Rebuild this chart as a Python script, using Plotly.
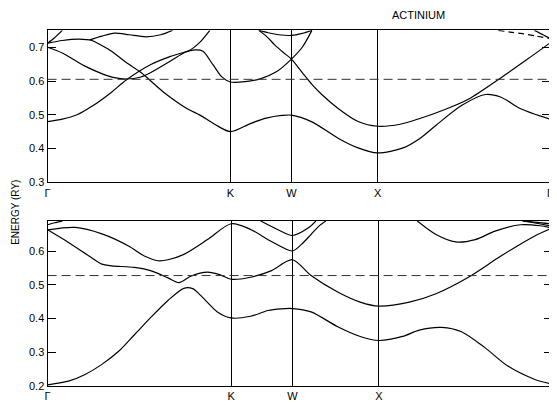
import plotly.graph_objects as go

# symmetry points (fcc path, units 2pi/a)
sym_k = [0.0, 1.0607, 1.4142, 1.9142, 2.9142]
sym_labels = ["Γ", "K", "W", "X", "Γ"]

# ---------------- upper panel (0.3 - 0.75 Ry) ----------------
top_fermi = 0.605
top_b1_k = [0.0, 0.0855, 0.171, 0.257, 0.371, 0.456, 0.599, 0.713, 0.827, 0.884, 0.941]
top_b1_e = [0.48, 0.487, 0.50, 0.525, 0.567, 0.603, 0.649, 0.673, 0.692, 0.715, 0.75]

top_b2_k = [0.0, 0.0855, 0.217, 0.314, 0.388, 0.456, 0.542, 0.599, 0.713, 0.798, 0.855, 0.901,
            0.958, 1.009, 1.0607, 1.146, 1.237, 1.329, 1.4142, 1.477, 1.533]
top_b2_e = [0.70, 0.683, 0.644, 0.622, 0.61, 0.606, 0.612, 0.625, 0.659, 0.685, 0.692, 0.688,
            0.649, 0.613, 0.597, 0.598, 0.607, 0.628, 0.665, 0.70, 0.75]

top_b3_k = [0.0, 0.0855, 0.182, 0.257, 0.314, 0.371, 0.456, 0.542, 0.673, 0.810, 0.884, 0.969,
            1.0607, 1.176, 1.268, 1.359, 1.4142, 1.533, 1.687, 1.801, 1.9142, 2.062, 2.159,
            2.255, 2.403, 2.539, 2.630, 2.744, 2.9142]
top_b3_e = [0.712, 0.72, 0.724, 0.72, 0.705, 0.688, 0.655, 0.625, 0.567, 0.518, 0.499, 0.472,
            0.45, 0.474, 0.49, 0.498, 0.499, 0.479, 0.43, 0.402, 0.387, 0.402, 0.43,
            0.47, 0.528, 0.56, 0.552, 0.518, 0.487]

top_b4_k = [0.245, 0.314, 0.388, 0.473, 0.570, 0.656, 0.724]
top_b4_e = [0.722, 0.733, 0.742, 0.737, 0.731, 0.737, 0.75]

top_b5_k = [0.0, 0.04, 0.0855]
top_b5_e = [0.712, 0.728, 0.75]

top_b6_k = [1.2253, 1.274, 1.317, 1.366, 1.4142, 1.477, 1.533, 1.590, 1.687, 1.801, 1.9142,
            2.045, 2.159, 2.301, 2.443, 2.630, 2.784, 2.9142]
top_b6_e = [0.75, 0.73, 0.707, 0.685, 0.665, 0.625, 0.59, 0.56, 0.518, 0.48, 0.466,
            0.472, 0.489, 0.515, 0.547, 0.61, 0.665, 0.713]

top_b7_k = [1.2253, 1.280, 1.341, 1.4142, 1.477, 1.533]
top_b7_e = [0.75, 0.743, 0.737, 0.735, 0.741, 0.75]

top_b8_k = [2.614, 2.682, 2.744, 2.824, 2.9142]   # dashed band
top_b8_e = [0.75, 0.745, 0.741, 0.734, 0.726]

top_b9_k = [2.824, 2.87, 2.9142]
top_b9_e = [0.75, 0.738, 0.726]

# ---------------- lower panel (0.2 - 0.69 Ry) ----------------
bot_fermi = 0.528
bot_b1_k = [0.0, 0.1255, 0.2167, 0.3136, 0.4106, 0.5018, 0.5988, 0.6957, 0.787, 0.8383, 0.8839,
            0.9809, 1.0607, 1.1727, 1.2728, 1.3495, 1.4142, 1.522, 1.676, 1.806, 1.9142,
            2.051, 2.147, 2.278, 2.391, 2.528, 2.659, 2.812, 2.9142]
bot_b1_e = [0.203, 0.215, 0.234, 0.264, 0.303, 0.352, 0.405, 0.454, 0.49, 0.489, 0.469,
            0.42, 0.402, 0.407, 0.424, 0.429, 0.43, 0.42, 0.376, 0.347, 0.335,
            0.347, 0.366, 0.374, 0.361, 0.313, 0.259, 0.22, 0.205]

bot_b2_k = [0.0, 0.1597, 0.3136, 0.4676, 0.5589, 0.6387, 0.6957, 0.787, 0.9238, 1.0607,
            1.1727, 1.2905, 1.4142, 1.4653, 1.522, 1.5676, 1.6074]
bot_b2_e = [0.664, 0.671, 0.652, 0.616, 0.586, 0.572, 0.575, 0.591, 0.635, 0.682,
            0.665, 0.63, 0.601, 0.62, 0.65, 0.675, 0.69]

bot_b3_k = [0.0, 0.1255, 0.2395, 0.3136, 0.3707, 0.5018, 0.5988, 0.6957, 0.7585, 0.8269,
            0.9238, 0.998, 1.0607, 1.1727, 1.2905, 1.4142, 1.522, 1.676, 1.806, 1.9142,
            2.09, 2.244, 2.431, 2.619, 2.812, 2.9142]
bot_b3_e = [0.664, 0.625, 0.586, 0.562, 0.557, 0.552, 0.542, 0.521, 0.507, 0.526,
            0.538, 0.53, 0.517, 0.523, 0.542, 0.575, 0.528, 0.479, 0.449, 0.437,
            0.449, 0.474, 0.523, 0.586, 0.645, 0.669]

bot_b4_k = [1.2316, 1.3318, 1.4142, 1.505, 1.55]
bot_b4_e = [0.69, 0.664, 0.647, 0.669, 0.69]

bot_b5_k = [2.136, 2.244, 2.358, 2.471, 2.585, 2.733, 2.846, 2.9142]
bot_b5_e = [0.69, 0.65, 0.628, 0.635, 0.66, 0.679, 0.676, 0.669]

bot_b6_k = [2.7438, 2.829, 2.9142]
bot_b6_e = [0.69, 0.686, 0.681]
bot_b7_k = [2.76, 2.84, 2.9142]
bot_b7_e = [0.69, 0.682, 0.675]

bot_b8_k = [0.0, 0.04, 0.0855]
bot_b8_e = [0.679, 0.685, 0.69]

fig = go.Figure()
LINE = dict(color="black", width=1.2, shape="spline", smoothing=0.8)


def band(k, e, axis, dash=None):
    ln = dict(LINE)
    if dash:
        ln["dash"] = dash
    fig.add_trace(go.Scatter(x=k, y=e, mode="lines", line=ln, hoverinfo="skip",
                             showlegend=False, xaxis="x" + axis, yaxis="y" + axis))


for k, e in [(top_b1_k, top_b1_e), (top_b2_k, top_b2_e), (top_b3_k, top_b3_e),
             (top_b4_k, top_b4_e), (top_b5_k, top_b5_e), (top_b6_k, top_b6_e),
             (top_b7_k, top_b7_e), (top_b9_k, top_b9_e)]:
    band(k, e, "")
band(top_b8_k, top_b8_e, "", dash="6px,4px")
fig.add_trace(go.Scatter(x=[sym_k[0], sym_k[-1]], y=[top_fermi, top_fermi], mode="lines",
                         line=dict(color="#333", width=1, dash="9px,5px"), hoverinfo="skip",
                         showlegend=False, xaxis="x", yaxis="y"))

for k, e in [(bot_b1_k, bot_b1_e), (bot_b2_k, bot_b2_e), (bot_b3_k, bot_b3_e),
             (bot_b4_k, bot_b4_e), (bot_b5_k, bot_b5_e), (bot_b6_k, bot_b6_e),
             (bot_b7_k, bot_b7_e), (bot_b8_k, bot_b8_e)]:
    band(k, e, "2")
fig.add_trace(go.Scatter(x=[sym_k[0], sym_k[-1]], y=[bot_fermi, bot_fermi], mode="lines",
                         line=dict(color="#333", width=1, dash="9px,5px"), hoverinfo="skip",
                         showlegend=False, xaxis="x2", yaxis="y2"))

FONT = dict(family="Liberation Sans, Arial, sans-serif", size=11, color="black")

# page body has an 8px margin, so the figure is 8px smaller and laid out from (8,8)
W, H = 549, 398

xcommon = dict(range=[sym_k[0], sym_k[-1]], tickvals=sym_k, ticktext=sym_labels,
               showgrid=True, gridcolor="black", gridwidth=1.2, zeroline=False,
               showline=True, linecolor="black", linewidth=1.2, mirror=True,
               ticks="", tickfont=FONT)
ycommon = dict(dtick=0.1, tickformat=".1f", ticks="inside", ticklen=8, tickwidth=1,
               tickcolor="black", showgrid=False, zeroline=False, showline=True,
               linecolor="black", linewidth=1.2, mirror="ticks", tickfont=FONT)

fig.update_layout(
    width=W, height=H,
    margin=dict(l=0, r=0, t=0, b=0),
    paper_bgcolor="white", plot_bgcolor="white",
    xaxis=dict(xcommon, domain=[37 / W, 545 / W], anchor="y"),
    yaxis=dict(ycommon, domain=[221 / H, 375.3 / H], range=[0.3, 0.75], anchor="x",
               tick0=0.3),
    xaxis2=dict(xcommon, domain=[37 / W, 547 / W], anchor="y2"),
    yaxis2=dict(ycommon, domain=[14.3 / H, 181.7 / H], range=[0.2, 0.69], anchor="x2",
                tick0=0.2),
    annotations=[
        dict(text="ACTINIUM", x=412 / W, y=(H - 7) / H, xref="paper", yref="paper",
             showarrow=False, font=FONT, xanchor="center", yanchor="middle"),
        dict(text="ENERGY (RY)", x=5 / W, y=(H - 207) / H, xref="paper", yref="paper",
             showarrow=False, font=dict(FONT, size=10), textangle=-90,
             xanchor="center", yanchor="middle"),
    ],
)

fig.write_html("out.html")
